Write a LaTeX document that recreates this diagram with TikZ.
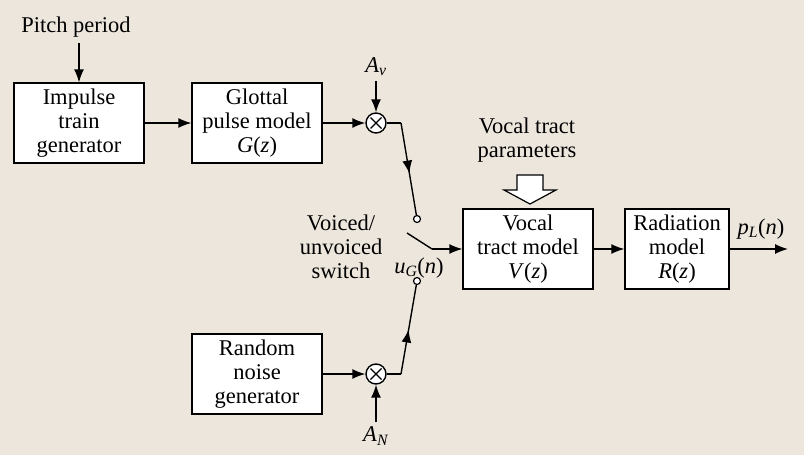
\documentclass[tikz,border=0pt]{standalone}
\usepackage{fontspec}
\setmainfont{Liberation Serif}
\usetikzlibrary{arrows.meta,decorations.markings}
\definecolor{bg}{RGB}{237,230,221}
\begin{document}
\begin{tikzpicture}[x=1pt,y=-1pt,
  font=\fontsize{22.5}{24}\selectfont,
  line width=1.4pt,
  >={Latex[length=13pt,width=10pt]},
  blk/.style={draw,fill=white,minimum width=130pt,minimum height=80pt,align=center,inner sep=0pt,line width=1.2pt},
  mult/.style={draw,fill=white,circle,minimum size=20pt,inner sep=0pt,line width=1.4pt},
  contact/.style={draw,fill=white,circle,minimum size=7pt,inner sep=0pt,line width=1.2pt},
  lbl/.style={align=center,inner sep=0pt},
  midarrow/.style={postaction={decorate},decoration={markings,mark=at position #1 with {\arrow{>}}}}
]
\fill[bg] (0,0) rectangle (804,455);
\useasboundingbox (0,0) rectangle (804,455);

\node[lbl] (pitch) at (76,27) {Pitch period};
\node[blk] (imp) at (79,123) {Impulse\\train\\generator};
\node[blk] (glo) at (257,123) {Glottal\\pulse model\\\textit{G}(\textit{z})};
\node[mult] (mv) at (376,123) {};
\node[lbl] (av) at (376,67) {\textit{A}\textsubscript{\textit{v}}};
\node[blk] (rnd) at (257,374) {Random\\noise\\generator};
\node[mult] (mn) at (376,374) {};
\node[lbl] (an) at (376,436) {\textit{A}\textsubscript{\textit{N}}};
\node[contact] (sw1) at (417,219) {};
\node[contact] (sw2) at (417,281) {};
\node[lbl] (swl) at (341,247) {Voiced/\\unvoiced\\switch};
\node[lbl] (ug) at (419,268) {\textit{u}\textsubscript{\textit{G}}(\textit{n})};
\node[blk] (voc) at (528,249) {Vocal\\tract model\\\textit{V}(\textit{z})};
\node[lbl] (vtp) at (527,140) {Vocal tract\\parameters};
\node[blk,minimum width=104pt] (rad) at (677,249) {Radiation\\model\\\textit{R}(\textit{z})};
\node[lbl] (pl) at (761,229) {\textit{p}\textsubscript{\textit{L}}(\textit{n})};

\coordinate (pt) at (79,43);
\coordinate (k1) at (401,123);
\coordinate (k2) at (401,374);
\coordinate (lv0) at (407,233);
\coordinate (lv1) at (432,249);
\coordinate (out) at (788,249);

% ×
\draw[line width=1.2pt] ([shift={(-5.5,-5.5)}]mv.center) -- ([shift={(5.5,5.5)}]mv.center) ([shift={(-5.5,5.5)}]mv.center) -- ([shift={(5.5,-5.5)}]mv.center);
\draw[line width=1.2pt] ([shift={(-5.5,-5.5)}]mn.center) -- ([shift={(5.5,5.5)}]mn.center) ([shift={(-5.5,5.5)}]mn.center) -- ([shift={(5.5,-5.5)}]mn.center);

\draw[->] (pt) -- (imp.north);
\draw[->] (imp) -- (glo);
\draw[->] (glo) -- (mv);
\draw[->] (av.south) ++(0,4) -- (mv.north);
\draw[->] (rnd) -- (mn);
\draw[->] (an.north) ++(0,-4) -- (mn.south);
\draw (mv.east) -- (k1);
\draw[midarrow=0.55] (k1) -- (sw1);
\draw (mn.east) -- (k2);
\draw[midarrow=0.5] (k2) -- (sw2);
\draw (lv0) -- (lv1);
\draw[->] (lv1) -- (voc.west);
\draw[->] (voc) -- (rad);
\draw[->] (rad.east) -- (out);

% hollow arrow
\draw[fill=white,line width=1.2pt] (517,175) -- (543,175) -- (543,190) -- (556,190) -- (530,204) -- (504,190) -- (517,190) -- cycle;
\end{tikzpicture}
\end{document}
